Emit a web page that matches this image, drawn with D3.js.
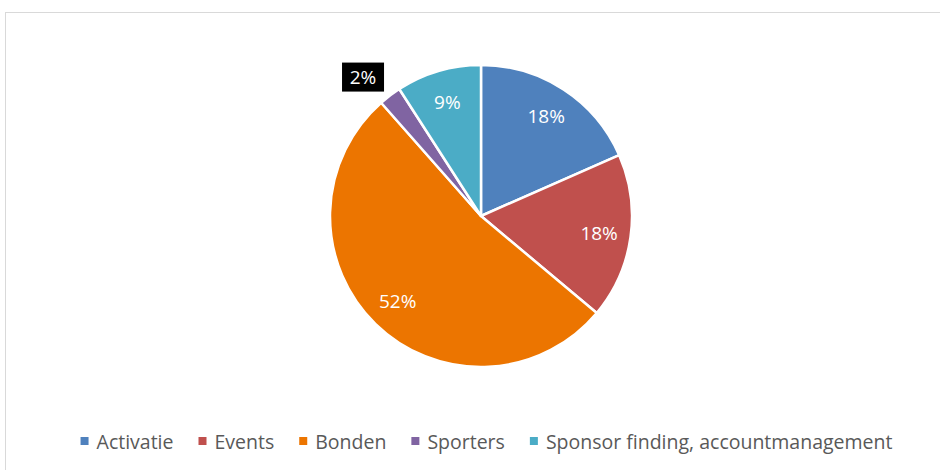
<!DOCTYPE html>
<html><head><meta charset="utf-8">
<script src="https://cdn.jsdelivr.net/npm/d3@7"></script>
<style>body{margin:0;background:#fff}svg{display:block}</style>
</head><body>
<svg id="c" width="940" height="470"></svg>
<script>
const categories = ["Activatie","Events","Bonden","Sporters","Sponsor finding, accountmanagement"];
const values = [18.4, 17.7, 52.4, 2.4, 9.1];
const colors = ["#4F81BD","#C0504D","#EC7500","#8064A2","#4BACC6"];

const svg = d3.select("#c");
const font = "'Open Sans', 'Liberation Sans', sans-serif";
svg.append("rect").attr("x",5.5).attr("y",12.5).attr("width",960).attr("height",480)
  .attr("fill","#fff").attr("stroke","#d9d9d9").attr("stroke-width",1);

const cx = 481, cy = 216, r = 151;
const data = categories.map((c,i)=>({c, v: values[i], col: colors[i]}));
const pie = d3.pie().value(d=>d.v).sort(null);
const arcs = pie(data);
const arc = d3.arc().innerRadius(0).outerRadius(r);
const g = svg.append("g").attr("transform",`translate(${cx},${cy})`);
g.selectAll("path").data(arcs).join("path")
  .attr("d",arc).attr("fill",d=>d.data.col)
  .attr("stroke","#fff").attr("stroke-width",2.5).attr("stroke-linejoin","round");

const fmt = v => d3.format(".0f")(v) + "%";
const labelArc = d3.arc().innerRadius(r*0.79).outerRadius(r*0.79);
arcs.forEach((a,i)=>{
  let [x,y] = labelArc.centroid(a);
  if (i === 3) {
    const ang = (a.startAngle + a.endAngle)/2;
    const rr = r*1.12;
    x = Math.sin(ang)*rr - 16; y = -Math.cos(ang)*rr - 4;
    g.append("rect").attr("x",x-21).attr("y",y-14.5).attr("width",42).attr("height",29).attr("fill","#000");
    g.append("text").attr("x",x).attr("y",y).attr("text-anchor","middle")
      .attr("dominant-baseline","central").attr("font-family",font).attr("font-size",19)
      .attr("fill","#fff").text(fmt(a.data.v));
  } else {
    g.append("text").attr("x",x).attr("y",y).attr("text-anchor","middle")
      .attr("dominant-baseline","central").attr("font-family",font).attr("font-size",19)
      .attr("fill","#fff").text(fmt(a.data.v));
  }
});

// legend
const leg = svg.append("g");
let xpos = 0;
data.forEach((d,i)=>{
  const it = leg.append("g").attr("transform",`translate(${xpos},0)`);
  it.append("rect").attr("x",0).attr("y",-4).attr("width",8).attr("height",8).attr("fill",d.col);
  const t = it.append("text").attr("x",16).attr("y",0).attr("dominant-baseline","central")
    .attr("font-family",font).attr("font-size",19.5).attr("fill","#595959").text(d.c);
  const w = t.node().getComputedTextLength();
  xpos += 16 + w + 25;
});
const total = xpos - 25;
leg.attr("transform",`translate(${486.5 - total/2},441)`);
</script>
</body></html>
